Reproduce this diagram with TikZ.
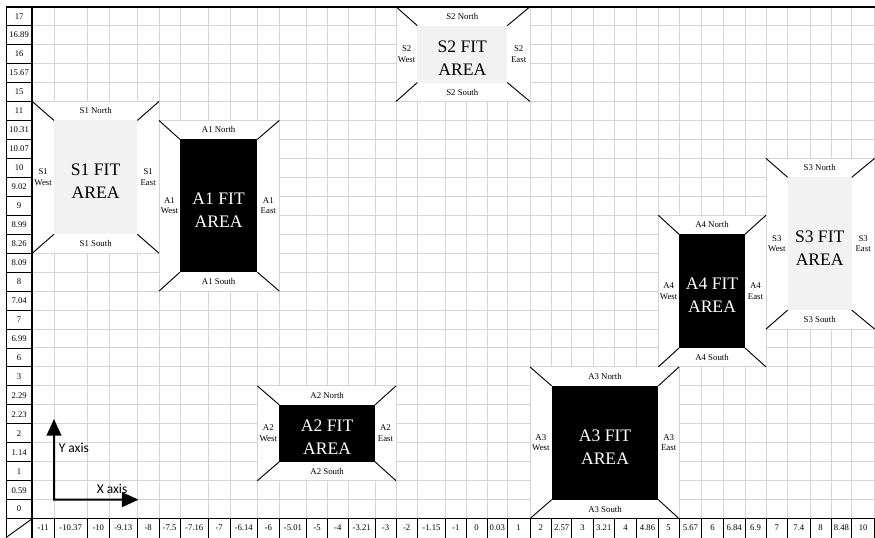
\documentclass[tikz,border=0pt]{standalone}
\usepackage{fontspec}
\setmainfont{Liberation Serif}
\newfontfamily\axisfont{Carlito}
\usetikzlibrary{arrows.meta,calc,fit}
\definecolor{gridline}{HTML}{D4D4D4}
\definecolor{sitefill}{HTML}{F2F2F2}
\newcommand{\RowTop}{6.7}
\newcommand{\RowH}{18.96}
% name / label / west col / east col / north row / south row (outer frame)
\newcommand{\AreaList}{s1/S1/1/6/5/13, a1/A1/6/11/6/15, s2/S2/16/22/0/5, s3/S3/33/38/8/17, a4/A4/28/33/11/19, a2/A2/10/16/20/25, a3/A3/22/29/19/27}

\begin{document}
\begin{tikzpicture}[x=0.75pt, y=-0.75pt,
    cellline/.style={draw=gridline, line width=0.75pt},
    cellframe/.style={draw=black, line width=0.7pt},
    heavyline/.style={draw=black, line width=1.3pt},
    ticklbl/.style={font=\fontsize{6.5}{7.8}\selectfont, inner sep=0pt},
    sidelbl/.style={font=\fontsize{6.6}{8}\selectfont, align=center, inner sep=0pt},
    sitearea/.style={fill=sitefill, inner sep=0pt, outer sep=0pt},
    fitarea/.style={fill=black, inner sep=0pt, outer sep=0pt},
    areatext/.style={inner sep=0pt, align=center, font=\fontsize{13.2}{17.2}\selectfont},
    diag/.style={draw=black, line width=0.7pt},
    axisarrow/.style={line width=1.5pt, line join=miter, {Triangle[length=12.5pt,width=11pt]}-{Triangle[length=12.5pt,width=11pt]}},
    axislbl/.style={font=\axisfont\fontsize{10.1}{12}\selectfont, inner sep=0pt, anchor=west},
  ]
\useasboundingbox (0,0) rectangle (875,537);
\clip (0,0) rectangle (875,537);

% --- Cell edges -----------------------------------------------------------------
\foreach \k/\x in {0/6,1/32.3,2/54,3/87.3,4/109.3,5/137.3,6/159,7/180,8/208.3,9/230,10/257.3,11/279.3,12/306.7,13/327.3,14/348.3,15/375,16/396,17/417.3,18/445.7,19/466,20/487.3,21/507.3,22/530,23/551.7,24/571.7,25/593.3,26/614.3,27/636.7,28/658.3,29/679,30/701.7,31/723.3,32/745,33/766,34/787.7,35/810,36/831,37/851.7,38/874.6}
  \coordinate (c\k) at (\x,0);
\foreach \k in {0,...,28}
  \coordinate (r\k) at (0,\RowTop+\k*\RowH);

% --- Grid -----------------------------------------------------------------------
\foreach \k in {1,...,38}
  \draw[cellline] (c\k|-r0) -- (c\k|-r27);
\foreach \k in {0,...,27}
  \draw[cellline] (c1|-r\k) -- (c38|-r\k);

% --- Frames of the areas ----------------------------------------------------------
\foreach \nm/\lb/\wc/\ec/\nr/\sr in \AreaList {
  \fill[white] (c\wc|-r\nr) rectangle (c\ec|-r\sr);
  \draw[cellline] (c\wc|-r\nr) rectangle (c\ec|-r\sr);
}

% --- Fit areas --------------------------------------------------------------------
\node[sitearea, fit=(c2|-r6)(c5|-r12)] (s1) {};
\node[fitarea, fit=(c7|-r7)(c10|-r14)] (a1) {};
\node[sitearea, fit=(c17|-r1)(c21|-r4)] (s2) {};
\node[sitearea, fit=(c34|-r9)(c37|-r16)] (s3) {};
\node[fitarea, fit=(c29|-r12)(c32|-r18)] (a4) {};
\node[fitarea, fit=(c11|-r21)(c15|-r24)] (a2) {};
\node[fitarea, fit=(c23|-r20)(c28|-r26)] (a3) {};

\node[areatext] (s1-t) at ($(s1.center)+(0,4)$) {S1 FIT\\AREA};
\node[areatext, text=white] (a1-t) at ($(a1.center)+(0,4)$) {A1 FIT\\AREA};
\node[areatext] (s2-t) at ($(s2.center)+(0,4)$) {S2 FIT\\AREA};
\node[areatext] (s3-t) at ($(s3.center)+(0,4)$) {S3 FIT\\AREA};
\node[areatext, text=white] (a4-t) at ($(a4.center)+(0,4)$) {A4 FIT\\AREA};
\node[areatext, text=white] (a2-t) at ($(a2.center)+(0,4)$) {A2 FIT\\AREA};
\node[areatext, text=white] (a3-t) at ($(a3.center)+(0,4)$) {A3 FIT\\AREA};

% sides and corners
\foreach \nm/\lb/\wc/\ec/\nr/\sr in \AreaList {
  \node[sidelbl] (\nm-n) at ($(\nm.north)!.5!(\nm.north|-r\nr)$) {\lb{} North};
  \node[sidelbl] (\nm-s) at ($(\nm.south)!.5!(\nm.south|-r\sr)$) {\lb{} South};
  \node[sidelbl] (\nm-w) at ($(\nm.west)!.5!(c\wc|-\nm.west)$) {\lb\\West};
  \node[sidelbl] (\nm-e) at ($(\nm.east)!.5!(c\ec|-\nm.east)$) {\lb\\East};
  \draw[diag] (\nm.north west) -- (c\wc|-r\nr);
  \draw[diag] (\nm.north east) -- (c\ec|-r\nr);
  \draw[diag] (\nm.south west) -- (c\wc|-r\sr);
  \draw[diag] (\nm.south east) -- (c\ec|-r\sr);
}

% --- Y values (left column) -------------------------------------------------------
\foreach \v [count=\k from 0] in {17,16.89,16,15.67,15,11,10.31,10.07,10,9.02,9,8.99,8.26,8.09,8,7.04,7,6.99,6,3,2.29,2.23,2,1.14,1,0.59,0}
  \node[ticklbl] (row\k) at (19.15,{\RowTop+(\k+0.5)*\RowH}) {\v};
\foreach \k in {0,...,27}
  \draw[cellframe] (c0|-r\k) -- (c1|-r\k);
\draw[cellframe] (c0|-r0) -- (c0|-r28);

% --- X values (bottom row) --------------------------------------------------------
\foreach \v [count=\k from 1] in {-11,-10.37,-10,-9.13,-8,-7.5,-7.16,-7,-6.14,-6,-5.01,-5,-4,-3.21,-3,-2,-1.15,-1,0,0.03,1,2,2.57,3,3.21,4,4.86,5,5.67,6,6.84,6.9,7,7.4,8,8.48,10} {
  \pgfmathtruncatemacro\kk{\k+1}
  \node[ticklbl] (col\k) at ($(c\k|-r27)!.5!(c\kk|-r28)$) {\v};
}
\foreach \k in {1,...,38}
  \draw[cellframe] (c\k|-r27) -- (c\k|-r28);
\draw[cellframe] (c0|-r28) -- (c1|-r27);

% --- Heavy borders ----------------------------------------------------------------
\draw[heavyline] (c0|-r0) -- (c38|-r0);
\draw[heavyline] (c1|-r0) -- (c1|-r28);
\draw[heavyline, line width=1pt] (c0|-r27) -- (c38|-r27);

% --- Axes ---------------------------------------------------------------------------
\coordinate (origin) at (c2|-r26);
\coordinate (ytip) at (54,419);
\coordinate (xtip) at (138.5,499.66);
\draw[axisarrow] (ytip) -- (origin) -- (xtip);
\node[axislbl] (ylabel) at (58.5,448.3) {Y axis};
\node[axislbl] (xlabel) at (96.5,488.5) {X axis};
\end{tikzpicture}
\end{document}
